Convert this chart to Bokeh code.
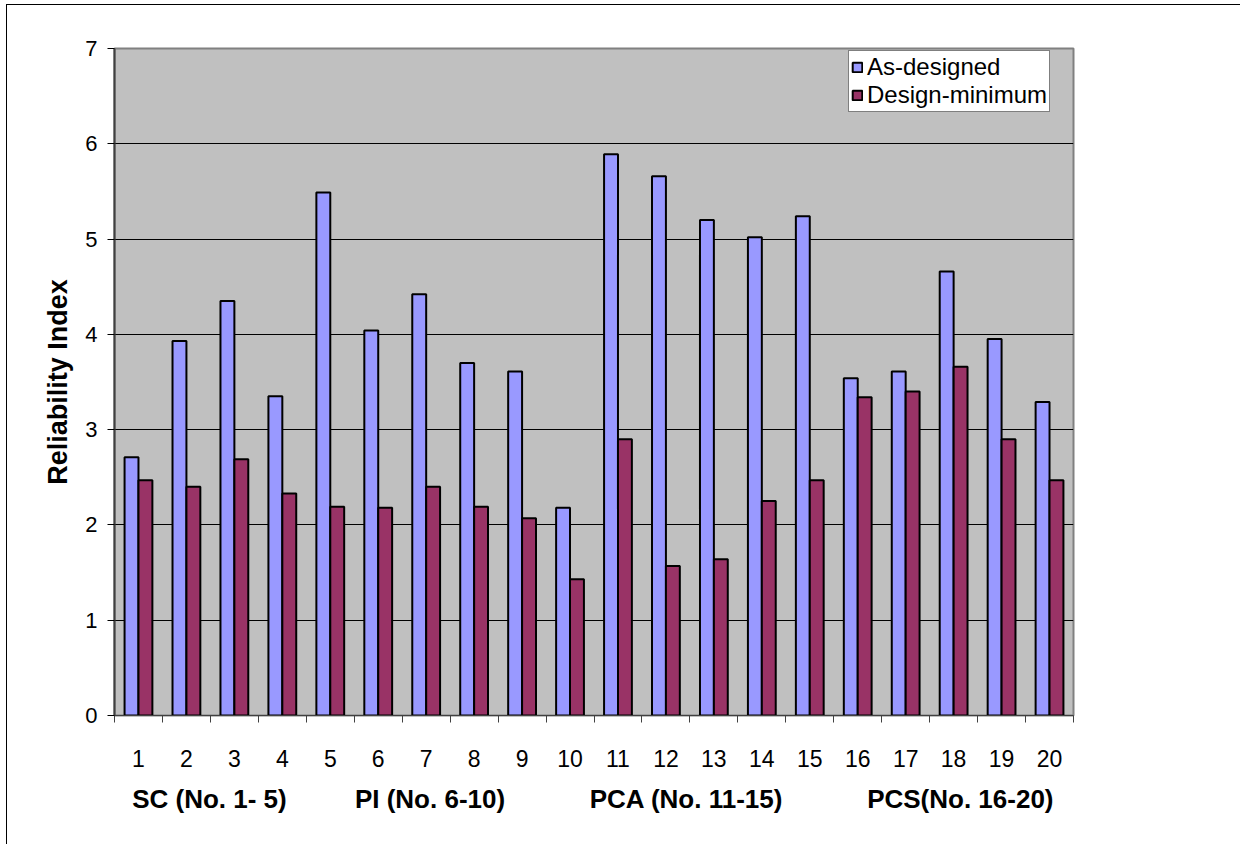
import numpy as np
from bokeh.plotting import figure
from bokeh.models import (Range1d, FixedTicker, LinearAxis, Legend, LegendItem,
                          ColumnDataSource)
from bokeh.transform import dodge
from bokeh.embed import file_html
from bokeh.resources import INLINE

# ---- data ----
case_numbers = [str(i) for i in range(1, 21)]
as_designed = [2.71, 3.93, 4.35, 3.35, 5.49, 4.04, 4.42, 3.70, 3.61, 2.18,
               5.89, 5.66, 5.20, 5.02, 5.24, 3.54, 3.61, 4.66, 3.95, 3.29]
design_minimum = [2.47, 2.40, 2.69, 2.33, 2.19, 2.18, 2.40, 2.19, 2.07, 1.43,
                  2.90, 1.57, 1.64, 2.25, 2.47, 3.34, 3.40, 3.66, 2.90, 2.47]
group_labels = ["SC (No. 1- 5)", "PI (No. 6-10)", "PCA (No. 11-15)", "PCS(No. 16-20)"]
y_ticks = [0, 1, 2, 3, 4, 5, 6, 7]
series_names = ["As-designed", "Design-minimum"]

# ---- layout constants ----
FONT = "Liberation Sans"
group_label_pos = [2.48, 7.08, 12.43, 18.14]
bar_w = 0.29

xs = np.arange(1, len(case_numbers) + 1)
src = ColumnDataSource(dict(x=xs, a=as_designed, d=design_minimum))

p = figure(width=1234, height=840, output_backend="svg", toolbar_location=None,
           x_range=Range1d(0.5, len(case_numbers) + 0.5),
           y_range=Range1d(y_ticks[0], y_ticks[-1]),
           min_border_left=107, min_border_right=168,
           min_border_top=43, min_border_bottom=130,
           background_fill_color="#C0C0C0", border_fill_color="white",
           x_axis_location=None, y_axis_location=None)
p.styles = {"margin-left": "6px", "margin-top": "4px",
            "border-left": "1px solid black", "border-top": "1px solid black"}
p.outline_line_color = "#808080"
p.outline_line_width = 2

# y axis
yax = LinearAxis(ticker=FixedTicker(ticks=y_ticks), axis_label="Reliability Index")
yax.major_label_text_font = FONT
yax.major_label_text_font_size = "22px"
yax.major_label_text_color = "black"
yax.major_label_standoff = 10
yax.major_tick_out = 7
yax.major_tick_in = 0
yax.minor_tick_out = 0
yax.minor_tick_in = 0
yax.axis_line_color = "#404040"
yax.axis_line_width = 2
yax.major_tick_line_color = "black"
yax.axis_label_text_font = FONT
yax.axis_label_text_font_size = "27px"
yax.axis_label_text_font_style = "bold"
yax.axis_label_text_color = "black"
yax.axis_label_standoff = 9
p.add_layout(yax, "left")

# x axis (case numbers) with boundary ticks
xax = LinearAxis(ticker=FixedTicker(ticks=list(xs),
                                    minor_ticks=list(np.arange(0.5, len(xs) + 1, 1.0))))
xax.major_label_overrides = {int(x): lab for x, lab in zip(xs, case_numbers)}
xax.major_label_text_font = FONT
xax.major_label_text_font_size = "23px"
xax.major_label_text_color = "black"
xax.major_tick_out = 0
xax.major_tick_in = 0
xax.minor_tick_out = 7
xax.minor_tick_in = 0
xax.minor_tick_line_color = "#404040"
xax.major_label_standoff = 27
xax.axis_line_color = "#404040"
xax.axis_line_width = 1
p.add_layout(xax, "below")

# group labels axis
gax = LinearAxis(ticker=FixedTicker(ticks=group_label_pos, minor_ticks=[]))
gax.major_label_overrides = {pos: lab for pos, lab in zip(group_label_pos, group_labels)}
gax.major_label_text_font = FONT
gax.major_label_text_font_size = "26px"
gax.major_label_text_font_style = "bold"
gax.major_label_text_color = "black"
gax.major_tick_out = 0
gax.major_tick_in = 0
gax.minor_tick_out = 0
gax.axis_line_color = None
gax.major_label_standoff = 14
p.add_layout(gax, "below")

# grid
p.ygrid.ticker = FixedTicker(ticks=y_ticks)
p.ygrid.grid_line_color = "black"
p.ygrid.grid_line_width = 1
p.xgrid.grid_line_color = None

r1 = p.vbar(x=dodge("x", -bar_w / 2), top="a", width=bar_w, source=src,
            fill_color="#9999FF", line_color="black", line_width=2)
r2 = p.vbar(x=dodge("x", bar_w / 2), top="d", width=bar_w, source=src,
            fill_color="#993366", line_color="black", line_width=2)

legend = Legend(items=[LegendItem(label=series_names[0], renderers=[r1]),
                       LegendItem(label=series_names[1], renderers=[r2])],
                location=(734, 603))
legend.label_text_font = FONT
legend.label_text_font_size = "24px"
legend.label_text_color = "black"
legend.glyph_width = 12
legend.glyph_height = 12
legend.label_standoff = 4
legend.padding = 2
legend.spacing = 0
legend.margin = 0
legend.label_height = 26
legend.border_line_color = "black"
legend.border_line_width = 1
legend.background_fill_color = "white"
legend.background_fill_alpha = 1
p.add_layout(legend)

open("out.html", "w").write(file_html(p, INLINE))
